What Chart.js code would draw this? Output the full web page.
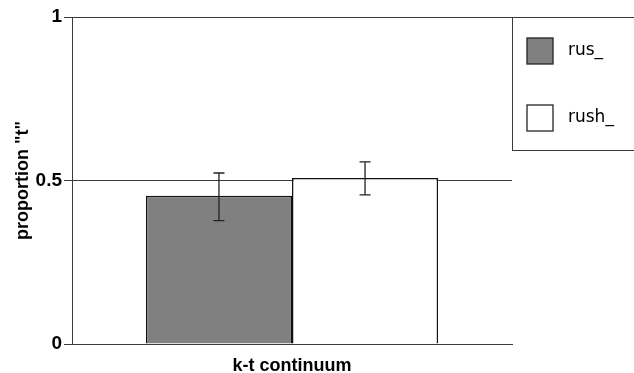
<!DOCTYPE html>
<html>
<head>
<meta charset="utf-8">
<script src="https://cdn.jsdelivr.net/npm/chart.js@4.4.0/dist/chart.umd.min.js"></script>
<style>
  html, body { margin: 0; padding: 0; background: #fff; }
  #wrap { width: 634px; height: 373px; }
</style>
</head>
<body>
<div id="wrap"><canvas id="chart"></canvas></div>
<script>
// dati
const categories = ['k-t continuum'];
const seriesNames = ['rus_', 'rush_'];
const rusValues = [0.453];
const rushValues = [0.508];
const rusErrLow = [0.377];
const rusErrHigh = [0.523];
const rushErrLow = [0.456];
const rushErrHigh = [0.557];
const yTicks = [0, 0.5, 1];

const lineCol = '#3a3a3a';

// barre di errore
const errorBars = {
  id: 'errorBars',
  afterDatasetsDraw(chart) {
    const ctx = chart.ctx;
    const y = chart.scales.y;
    const errs = [[rusErrLow, rusErrHigh], [rushErrLow, rushErrHigh]];
    ctx.save();
    ctx.strokeStyle = '#222';
    ctx.lineWidth = 1.3;
    chart.data.datasets.forEach((ds, i) => {
      chart.getDatasetMeta(i).data.forEach((bar, j) => {
        const x = bar.x;
        const lo = y.getPixelForValue(errs[i][0][j]);
        const hi = y.getPixelForValue(errs[i][1][j]);
        ctx.beginPath();
        ctx.moveTo(x, lo); ctx.lineTo(x, hi);
        ctx.moveTo(x - 5.5, lo); ctx.lineTo(x + 5.5, lo);
        ctx.moveTo(x - 5.5, hi); ctx.lineTo(x + 5.5, hi);
        ctx.stroke();
      });
    });
    ctx.restore();
  }
};

// riquadro legenda
const legendBox = {
  id: 'legendBox',
  afterDraw(chart) {
    const ctx = chart.ctx;
    const a = chart.chartArea;
    const w = chart.width;
    const boxBottom = 150;
    ctx.save();
    ctx.strokeStyle = lineCol;
    ctx.lineWidth = 1;
    ctx.beginPath();
    ctx.moveTo(a.right, a.top + 0.5); ctx.lineTo(w, a.top + 0.5);
    ctx.moveTo(a.right + 0.5, a.top); ctx.lineTo(a.right + 0.5, boxBottom);
    ctx.moveTo(a.right, boxBottom + 0.5); ctx.lineTo(w, boxBottom + 0.5);
    ctx.stroke();
    ctx.font = '17px "DejaVu Sans"';
    ctx.textBaseline = 'middle';
    chart.data.datasets.forEach((ds, i) => {
      const cy = 51 + i * 67;
      const bx = a.right + 15;
      ctx.fillStyle = ds.backgroundColor;
      ctx.fillRect(bx, cy - 13, 26, 26);
      ctx.strokeStyle = '#222';
      ctx.lineWidth = 1.3;
      ctx.strokeRect(bx, cy - 13, 26, 26);
      ctx.fillStyle = '#000';
      ctx.fillText(ds.label, bx + 41, cy);
    });
    ctx.restore();
  }
};

new Chart(document.getElementById('chart').getContext('2d'), {
  type: 'bar',
  data: {
    labels: categories,
    datasets: [{
      label: seriesNames[0],
      data: rusValues,
      backgroundColor: '#808080',
      borderColor: '#111',
      borderWidth: 1.5
    }, {
      label: seriesNames[1],
      data: rushValues,
      backgroundColor: '#ffffff',
      borderColor: '#111',
      borderWidth: 1.5
    }]
  },
  options: {
    responsive: true,
    maintainAspectRatio: false,
    animation: false,
    layout: { padding: { top: 17, right: 122, left: 0, bottom: 0 } },
    plugins: {
      legend: { display: false },
      tooltip: { enabled: false }
    },
    datasets: {
      bar: { categoryPercentage: 0.664, barPercentage: 1.0 }
    },
    scales: {
      x: {
        grid: { display: false },
        border: { display: true, color: lineCol, width: 1 },
        ticks: {
          color: '#000',
          padding: 3,
          font: { family: 'Arial, "Liberation Sans"', size: 18, weight: 'bold' }
        },
        afterFit: s => { s.height = 29; }
      },
      y: {
        min: 0,
        max: 1,
        afterBuildTicks: s => { s.ticks = yTicks.map(v => ({ value: v })); },
        grid: {
          color: lineCol,
          lineWidth: 1,
          tickLength: 8,
          drawTicks: true
        },
        border: { display: true, color: lineCol, width: 1 },
        ticks: {
          color: '#000',
          padding: 2,
          callback: v => String(v),
          font: { family: 'Arial, "Liberation Sans"', size: 19, weight: 'bold' }
        },
        title: {
          display: true,
          text: 'proportion "t"',
          color: '#000',
          padding: { top: 12, bottom: 0 },
          font: { family: 'Arial, "Liberation Sans"', size: 18, weight: 'bold' }
        },
        afterFit: s => { s.width = 72; }
      }
    }
  },
  plugins: [errorBars, legendBox]
});
</script>
</body>
</html>
